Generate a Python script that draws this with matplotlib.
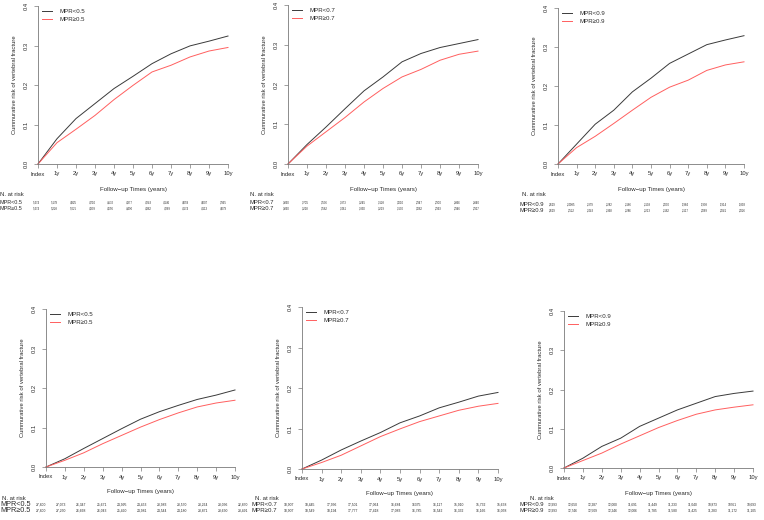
import matplotlib
matplotlib.use("Agg")
import matplotlib.pyplot as plt
import numpy as np

plt.rcParams["font.family"] = ["Liberation Sans", "DejaVu Sans"]

years = [0, 1, 2, 3, 4, 5, 6, 7, 8, 9, 10]
tick_labels = ["Index", "1y", "2y", "3y", "4y", "5y", "6y", "7y", "8y", "9y", "10y"]
y_ticks = [0.0, 0.1, 0.2, 0.3, 0.4]
y_tick_labels = ["0.0", "0.1", "0.2", "0.3", "0.4"]

# cumulative risk, one value per year
risk_05_low = [0, 0.064, 0.115, 0.153, 0.191, 0.222, 0.254, 0.279, 0.299, 0.311, 0.324]
risk_05_high = [0, 0.054, 0.088, 0.123, 0.163, 0.199, 0.233, 0.250, 0.271, 0.286, 0.295]
risk_07_low = [0, 0.049, 0.093, 0.139, 0.184, 0.219, 0.257, 0.278, 0.293, 0.303, 0.313]
risk_07_high = [0, 0.045, 0.081, 0.117, 0.156, 0.190, 0.219, 0.238, 0.261, 0.276, 0.284]
risk_09_low = [0, 0.051, 0.102, 0.138, 0.185, 0.220, 0.258, 0.282, 0.306, 0.318, 0.329]
risk_09_high = [0, 0.042, 0.071, 0.104, 0.138, 0.171, 0.197, 0.215, 0.240, 0.254, 0.262]

risk_05b_low = [0, 0.021, 0.047, 0.072, 0.097, 0.121, 0.140, 0.156, 0.171, 0.182, 0.195]
risk_05b_high = [0, 0.017, 0.036, 0.059, 0.080, 0.101, 0.120, 0.137, 0.152, 0.162, 0.169]
risk_07b_low = [0, 0.022, 0.047, 0.069, 0.090, 0.114, 0.131, 0.151, 0.165, 0.180, 0.189]
risk_07b_high = [0, 0.016, 0.034, 0.057, 0.080, 0.099, 0.117, 0.131, 0.145, 0.155, 0.162]
risk_09b_low = [0, 0.025, 0.055, 0.076, 0.106, 0.127, 0.148, 0.165, 0.182, 0.190, 0.196]
risk_09b_high = [0, 0.019, 0.038, 0.061, 0.082, 0.103, 0.121, 0.137, 0.148, 0.155, 0.161]

# numbers at risk
n_05_low = ["5,474", "5,178", "4,925", "4,710", "4,532", "4,377", "4,243", "4,146", "4,059", "4,007", "3,965"]
n_05_high = ["5,474", "5,228", "5,025", "4,839", "4,656", "4,490", "4,362", "4,269", "4,174", "4,113", "4,079"]
n_07_low = ["3,890", "3,705", "3,536", "3,373", "3,245", "3,128", "3,010", "2,947", "2,900", "2,866", "2,840"]
n_07_high = ["3,890", "3,228", "3,582", "3,461", "3,330", "3,219", "3,130", "3,062", "2,993", "2,946", "2,927"]
n_09_low = ["2,629", "2,4985", "2,379", "2,282", "2,186", "2,108", "2,030", "1,984", "1,938", "1,914", "1,893"]
n_09_high = ["2,629", "2,522", "2,443", "2,368", "2,286", "2,213", "2,162", "2,117", "2,069", "2,041", "2,026"]

n_05b_low = ["27,800", "27,073", "26,347", "25,671", "24,995", "24,453", "23,983", "23,570", "23,264", "23,036", "22,870"]
n_05b_high = ["27,800", "27,250", "26,668", "26,043", "25,490", "24,981", "24,544", "24,180", "23,871", "23,630", "23,491"]
n_07b_low = ["18,907", "18,445", "17,936", "17,501", "17,064", "16,684", "16375", "16,117", "15,910", "15,732", "15,638"]
n_07b_high = ["18,907", "18,549", "18,194", "17,777", "17,418", "17,083", "16,785", "16,542", "16,332", "16,166", "16,058"]
n_09b_low = ["12,993", "12,650", "12,287", "12,000", "11,691", "11,449", "11,233", "11,040", "10,873", "10761", "10,693"]
n_09b_high = ["12,993", "12,746", "12,509", "12,246", "12,006", "11,785", "11,580", "11,425", "11,283", "11,172", "11,105"]

W, H = 764, 520
DARK = "#3a3a3a"
RED = "#ff5f5f"
GRAY = "#7a7a7a"
TEXT = "#2a2a2a"

fig = plt.figure(figsize=(W / 100, H / 100), dpi=100)


def ftext(x, y, s, **kw):
    kw.setdefault("color", TEXT)
    fig.text(x / W, 1 - y / H, s, **kw)


def draw_panel(box, thr, low, high, n_low, n_high, risk_y, label_x, num_span,
               n_at, label_size=4.2, num_size=2.0):
    left, top, right, bottom = box
    ax = fig.add_axes([left / W, 1 - bottom / H, (right - left) / W, (bottom - top) / H])
    ax.patch.set_alpha(0)
    ax.plot(years, low, color=DARK, lw=0.7, clip_on=False, label=f"MPR<{thr}")
    ax.plot(years, high, color=RED, lw=0.7, clip_on=False, label=f"MPR\u2265{thr}")
    ax.set_xlim(0, 10)
    ax.set_ylim(0, 0.4)
    for s in ("top", "right"):
        ax.spines[s].set_visible(False)
    for s in ("left", "bottom"):
        ax.spines[s].set_color(GRAY)
        ax.spines[s].set_linewidth(0.6)
    ax.set_xticks(years, tick_labels)
    ax.set_yticks(y_ticks, y_tick_labels)
    ax.tick_params(colors=GRAY, labelcolor=TEXT, labelsize=4.2, length=3.2, width=0.5)
    ax.tick_params(axis="x", pad=2.2)
    ax.tick_params(axis="y", pad=3.5)
    for lab in ax.get_yticklabels():
        lab.set_rotation(90)
        lab.set_va("center")

    w_px = right - left
    h_px = bottom - top
    ax.legend(loc="upper left", bbox_to_anchor=(4 / w_px, 1 - 3 / h_px), frameon=False,
              fontsize=4.4, handlelength=1.6, handletextpad=1.2, labelspacing=0.35,
              borderaxespad=0, borderpad=0, labelcolor=TEXT)

    ftext(left - 23, (top + bottom) / 2, "Cummurative risk of vertebral fracture",
          rotation=90, ha="center", va="center", fontsize=4.2)
    ftext((left + right) / 2, bottom + 25, "Follow\u2212up Times (years)",
          ha="center", va="center", fontsize=4.4)

    ftext(n_at[0], n_at[1], "N. at risk", ha="left", va="center", fontsize=4.3)
    xs = np.linspace(num_span[0], num_span[1], len(years))
    for row_y, name, counts in ((risk_y[0], f"MPR<{thr}", n_low),
                                (risk_y[1], f"MPR\u2265{thr}", n_high)):
        ftext(label_x, row_y, name, ha="left", va="center", fontsize=label_size)
        for x, c in zip(xs, counts):
            ftext(x, row_y, c, ha="center", va="center", fontsize=num_size)


draw_panel((38, 6, 228, 164), "0.5", risk_05_low, risk_05_high, n_05_low, n_05_high,
           (203, 208.5), 0, (36, 223), (0, 194), label_size=3.9)
draw_panel((288, 5, 478, 164), "0.7", risk_07_low, risk_07_high, n_07_low, n_07_high,
           (202.5, 208.5), 250, (286, 476), (250, 194))
draw_panel((558, 8, 744, 164), "0.9", risk_09_low, risk_09_high, n_09_low, n_09_high,
           (205, 210.5), 520, (552, 742), (522, 194))

draw_panel((46, 309, 235, 467), "0.5", risk_05b_low, risk_05b_high, n_05b_low, n_05b_high,
           (505, 511), 0, (41, 243), (2, 499), label_size=5.2, num_size=2.4)
draw_panel((302, 307, 498, 469), "0.7", risk_07b_low, risk_07b_high, n_07b_low, n_07b_high,
           (504.5, 511), 251, (289, 502), (255, 499), label_size=4.4, num_size=2.4)
draw_panel((564, 311, 753, 468), "0.9", risk_09b_low, risk_09b_high, n_09b_low, n_09b_high,
           (505, 511), 520, (553, 752), (530, 499), label_size=4.2, num_size=2.3)

fig.savefig("out.png", dpi=100)
